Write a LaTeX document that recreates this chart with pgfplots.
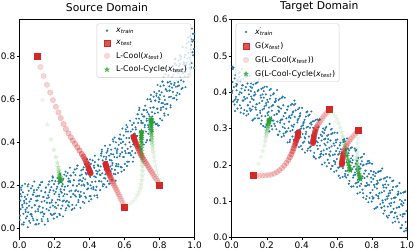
\documentclass[border=0pt]{standalone}
\usepackage{fontspec}
\setmainfont{DejaVu Sans}
\usepackage{pgfplots}
\usepackage{pgfplotstable}
\pgfplotsset{compat=1.18}
\definecolor{tblue}{HTML}{1F77B4}
\definecolor{tred}{HTML}{D62728}
\definecolor{tgreen}{HTML}{2CA02C}
\definecolor{tpink}{HTML}{F6D0D0}
\pgfdeclareplotmark{fstar}{%
  \pgfpathmoveto{\pgfqpointpolar{90}{\pgfplotmarksize}}%
  \pgfpathlineto{\pgfqpointpolar{126}{0.42\pgfplotmarksize}}%
  \pgfpathlineto{\pgfqpointpolar{162}{\pgfplotmarksize}}%
  \pgfpathlineto{\pgfqpointpolar{198}{0.42\pgfplotmarksize}}%
  \pgfpathlineto{\pgfqpointpolar{234}{\pgfplotmarksize}}%
  \pgfpathlineto{\pgfqpointpolar{270}{0.42\pgfplotmarksize}}%
  \pgfpathlineto{\pgfqpointpolar{306}{\pgfplotmarksize}}%
  \pgfpathlineto{\pgfqpointpolar{342}{0.42\pgfplotmarksize}}%
  \pgfpathlineto{\pgfqpointpolar{18}{\pgfplotmarksize}}%
  \pgfpathlineto{\pgfqpointpolar{54}{0.42\pgfplotmarksize}}%
  \pgfpathclose\pgfusepathqfill}

\pgfplotstableread{
x y
0.002 0.040
0.005 0.130
0.007 0.090
0.009 0.190
0.011 0.149
0.014 0.019
0.016 0.199
0.018 0.099
0.023 0.068
0.020 0.168
0.028 0.118
0.025 0.028
0.032 0.207
0.035 0.087
0.037 0.047
0.039 0.137
0.041 0.116
0.044 0.056
0.046 0.156
0.048 0.006
0.053 0.175
0.050 0.075
0.058 0.125
0.055 0.105
0.062 0.026
0.065 0.136
0.067 0.186
0.069 0.066
0.071 0.097
0.074 0.197
0.076 0.047
0.078 0.157
0.083 0.168
0.080 0.038
0.088 0.108
0.085 0.218
0.092 0.079
0.095 0.149
0.097 0.019
0.099 0.179
0.101 0.040
0.104 0.130
0.106 0.090
0.108 0.190
0.113 0.152
0.110 0.022
0.118 0.202
0.115 0.102
0.122 0.074
0.125 0.174
0.127 0.124
0.129 0.034
0.131 0.216
0.134 0.096
0.136 0.056
0.138 0.146
0.143 0.128
0.140 0.068
0.148 0.168
0.145 0.018
0.152 0.190
0.155 0.090
0.157 0.140
0.159 0.120
0.161 0.044
0.164 0.154
0.166 0.204
0.168 0.084
0.173 0.118
0.170 0.218
0.178 0.068
0.175 0.178
0.182 0.192
0.185 0.062
0.187 0.132
0.189 0.242
0.191 0.106
0.194 0.176
0.196 0.046
0.198 0.206
0.203 0.070
0.200 0.160
0.208 0.120
0.205 0.220
0.212 0.184
0.215 0.054
0.217 0.234
0.219 0.134
0.221 0.108
0.224 0.208
0.226 0.158
0.228 0.068
0.233 0.252
0.230 0.132
0.238 0.092
0.235 0.182
0.242 0.166
0.245 0.106
0.247 0.206
0.249 0.056
0.251 0.230
0.254 0.130
0.256 0.180
0.258 0.160
0.263 0.084
0.260 0.194
0.268 0.244
0.265 0.124
0.272 0.158
0.275 0.258
0.277 0.108
0.279 0.218
0.281 0.232
0.284 0.102
0.286 0.172
0.288 0.282
0.293 0.146
0.290 0.216
0.298 0.086
0.295 0.246
0.302 0.110
0.305 0.200
0.307 0.160
0.309 0.260
0.311 0.224
0.314 0.094
0.316 0.274
0.318 0.174
0.323 0.148
0.320 0.248
0.328 0.198
0.325 0.108
0.332 0.292
0.335 0.172
0.337 0.132
0.339 0.222
0.341 0.206
0.344 0.146
0.346 0.246
0.348 0.096
0.353 0.270
0.350 0.170
0.358 0.220
0.355 0.200
0.362 0.124
0.365 0.234
0.367 0.284
0.369 0.164
0.371 0.198
0.374 0.298
0.376 0.148
0.378 0.258
0.383 0.272
0.380 0.142
0.388 0.212
0.385 0.322
0.392 0.186
0.395 0.256
0.397 0.126
0.399 0.286
0.401 0.150
0.404 0.240
0.406 0.200
0.408 0.300
0.413 0.266
0.410 0.136
0.418 0.316
0.415 0.216
0.422 0.192
0.425 0.292
0.427 0.242
0.429 0.152
0.431 0.338
0.434 0.218
0.436 0.178
0.438 0.268
0.443 0.254
0.440 0.194
0.448 0.294
0.445 0.144
0.452 0.320
0.455 0.220
0.457 0.270
0.459 0.250
0.461 0.178
0.464 0.288
0.466 0.338
0.468 0.218
0.473 0.256
0.470 0.356
0.478 0.206
0.475 0.316
0.482 0.334
0.485 0.204
0.487 0.274
0.489 0.384
0.491 0.252
0.494 0.322
0.496 0.192
0.498 0.352
0.503 0.220
0.500 0.310
0.508 0.270
0.505 0.370
0.512 0.338
0.515 0.208
0.517 0.388
0.519 0.288
0.521 0.266
0.524 0.366
0.526 0.316
0.528 0.226
0.533 0.414
0.530 0.294
0.538 0.254
0.535 0.344
0.542 0.332
0.545 0.272
0.547 0.372
0.549 0.222
0.551 0.400
0.554 0.300
0.556 0.350
0.558 0.330
0.563 0.258
0.560 0.368
0.568 0.418
0.565 0.298
0.572 0.336
0.575 0.436
0.577 0.286
0.579 0.396
0.581 0.414
0.584 0.284
0.586 0.354
0.588 0.464
0.593 0.332
0.590 0.402
0.598 0.272
0.595 0.432
0.602 0.300
0.605 0.390
0.607 0.350
0.609 0.450
0.611 0.420
0.614 0.290
0.616 0.470
0.618 0.370
0.623 0.350
0.620 0.450
0.628 0.400
0.625 0.310
0.632 0.500
0.635 0.380
0.637 0.340
0.639 0.430
0.641 0.420
0.644 0.360
0.646 0.460
0.648 0.310
0.653 0.490
0.650 0.390
0.658 0.440
0.655 0.420
0.662 0.350
0.665 0.460
0.667 0.510
0.669 0.390
0.671 0.430
0.674 0.530
0.676 0.380
0.678 0.490
0.683 0.510
0.680 0.380
0.688 0.450
0.685 0.560
0.692 0.430
0.695 0.500
0.697 0.370
0.699 0.530
0.701 0.400
0.704 0.490
0.706 0.450
0.708 0.550
0.713 0.520
0.710 0.390
0.718 0.570
0.715 0.470
0.722 0.450
0.725 0.550
0.727 0.500
0.729 0.410
0.731 0.600
0.734 0.480
0.736 0.440
0.738 0.530
0.743 0.520
0.740 0.460
0.748 0.560
0.745 0.410
0.752 0.590
0.755 0.490
0.757 0.540
0.759 0.520
0.761 0.452
0.764 0.562
0.766 0.612
0.768 0.492
0.773 0.534
0.770 0.634
0.778 0.484
0.775 0.594
0.782 0.616
0.785 0.486
0.787 0.556
0.789 0.666
0.791 0.538
0.794 0.608
0.796 0.478
0.798 0.638
0.803 0.510
0.800 0.600
0.808 0.560
0.805 0.660
0.812 0.632
0.815 0.502
0.817 0.682
0.819 0.582
0.821 0.564
0.824 0.664
0.826 0.614
0.828 0.524
0.833 0.716
0.830 0.596
0.838 0.556
0.835 0.646
0.842 0.638
0.845 0.578
0.847 0.678
0.849 0.528
0.851 0.710
0.854 0.610
0.856 0.660
0.858 0.640
0.863 0.572
0.860 0.682
0.868 0.732
0.865 0.612
0.872 0.654
0.875 0.754
0.877 0.604
0.879 0.714
0.881 0.736
0.884 0.606
0.886 0.676
0.888 0.786
0.893 0.658
0.890 0.728
0.898 0.598
0.895 0.758
0.902 0.630
0.905 0.720
0.907 0.680
0.909 0.780
0.911 0.754
0.914 0.624
0.916 0.804
0.918 0.704
0.923 0.688
0.920 0.788
0.928 0.738
0.925 0.648
0.932 0.842
0.935 0.722
0.937 0.682
0.939 0.772
0.941 0.766
0.944 0.706
0.946 0.806
0.948 0.656
0.953 0.840
0.950 0.740
0.958 0.790
0.955 0.770
0.962 0.706
0.965 0.816
0.967 0.866
0.969 0.746
0.971 0.792
0.974 0.892
0.976 0.742
0.978 0.852
0.983 0.878
0.980 0.748
0.988 0.818
0.985 0.928
0.992 0.804
0.995 0.874
0.997 0.744
0.999 0.904
0.003 0.060
0.007 0.160
0.011 0.179
0.016 0.109
0.023 0.018
0.027 0.128
0.031 0.147
0.036 0.077
0.043 0.096
0.047 0.196
0.051 0.205
0.056 0.035
0.063 0.066
0.067 0.136
0.071 0.057
0.076 0.157
0.083 0.178
0.087 0.108
0.091 0.019
0.096 0.129
0.103 0.150
0.107 0.080
0.111 0.102
0.116 0.202
0.123 0.214
0.127 0.044
0.131 0.076
0.136 0.146
0.143 0.068
0.147 0.168
0.151 0.190
0.156 0.120
0.163 0.034
0.167 0.144
0.171 0.168
0.176 0.098
0.183 0.122
0.187 0.222
0.191 0.236
0.196 0.066
0.203 0.100
0.207 0.170
0.211 0.094
0.216 0.194
0.223 0.218
0.227 0.148
0.231 0.062
0.236 0.172
0.243 0.196
0.247 0.126
0.251 0.150
0.256 0.250
0.263 0.264
0.267 0.094
0.271 0.128
0.276 0.198
0.283 0.122
0.287 0.222
0.291 0.246
0.296 0.176
0.303 0.090
0.307 0.200
0.311 0.224
0.316 0.154
0.323 0.178
0.327 0.278
0.331 0.292
0.336 0.122
0.343 0.156
0.347 0.226
0.351 0.150
0.356 0.250
0.363 0.274
0.367 0.204
0.371 0.118
0.376 0.228
0.383 0.252
0.387 0.182
0.391 0.206
0.396 0.306
0.403 0.320
0.407 0.150
0.411 0.186
0.416 0.256
0.423 0.182
0.427 0.282
0.431 0.308
0.436 0.238
0.443 0.154
0.447 0.264
0.451 0.290
0.456 0.220
0.463 0.248
0.467 0.348
0.471 0.366
0.476 0.196
0.483 0.234
0.487 0.304
0.491 0.232
0.496 0.332
0.503 0.360
0.507 0.290
0.511 0.208
0.516 0.318
0.523 0.346
0.527 0.276
0.531 0.304
0.536 0.404
0.543 0.422
0.547 0.252
0.551 0.290
0.556 0.360
0.563 0.288
0.567 0.388
0.571 0.416
0.576 0.346
0.583 0.264
0.587 0.374
0.591 0.402
0.596 0.332
0.603 0.360
0.607 0.460
0.611 0.480
0.616 0.310
0.623 0.350
0.627 0.420
0.631 0.350
0.636 0.450
0.643 0.480
0.647 0.410
0.651 0.330
0.656 0.440
0.663 0.470
0.667 0.400
0.671 0.430
0.676 0.530
0.683 0.550
0.687 0.380
0.691 0.420
0.696 0.490
0.703 0.420
0.707 0.520
0.711 0.550
0.716 0.480
0.723 0.400
0.727 0.510
0.731 0.540
0.736 0.470
0.743 0.500
0.747 0.600
0.751 0.620
0.756 0.450
0.763 0.492
0.767 0.562
0.771 0.494
0.776 0.594
0.783 0.626
0.787 0.556
0.791 0.478
0.796 0.588
0.803 0.620
0.807 0.550
0.811 0.582
0.816 0.682
0.823 0.704
0.827 0.534
0.831 0.576
0.836 0.646
0.843 0.578
0.847 0.678
0.851 0.710
0.856 0.640
0.863 0.562
0.867 0.672
0.871 0.704
0.876 0.634
0.883 0.666
0.887 0.766
0.891 0.788
0.896 0.618
0.903 0.660
0.907 0.730
0.911 0.664
0.916 0.764
0.923 0.798
0.927 0.728
0.931 0.652
0.936 0.762
0.943 0.796
0.947 0.726
0.951 0.760
0.956 0.860
0.963 0.886
0.967 0.716
0.971 0.762
0.976 0.832
0.983 0.768
0.987 0.868
0.991 0.904
0.996 0.834
}\srctrain

\pgfplotstableread{
x y
0.003 0.470
0.001 0.398
0.008 0.374
0.005 0.428
0.012 0.414
0.015 0.378
0.017 0.438
0.019 0.348
0.021 0.447
0.024 0.387
0.026 0.417
0.028 0.405
0.033 0.355
0.030 0.421
0.038 0.451
0.035 0.379
0.042 0.394
0.045 0.454
0.047 0.364
0.049 0.430
0.051 0.434
0.054 0.356
0.056 0.398
0.058 0.464
0.063 0.377
0.060 0.419
0.068 0.341
0.065 0.437
0.072 0.351
0.075 0.405
0.077 0.381
0.079 0.441
0.081 0.414
0.084 0.336
0.086 0.444
0.088 0.384
0.093 0.364
0.090 0.424
0.098 0.394
0.095 0.340
0.102 0.445
0.105 0.373
0.107 0.349
0.109 0.403
0.111 0.388
0.114 0.352
0.116 0.412
0.118 0.322
0.123 0.421
0.120 0.361
0.128 0.391
0.125 0.379
0.132 0.328
0.135 0.394
0.137 0.424
0.139 0.352
0.141 0.367
0.144 0.427
0.146 0.337
0.148 0.403
0.153 0.406
0.150 0.328
0.158 0.370
0.155 0.436
0.162 0.349
0.165 0.391
0.167 0.313
0.169 0.409
0.171 0.322
0.174 0.376
0.176 0.352
0.178 0.412
0.183 0.385
0.180 0.307
0.188 0.415
0.185 0.355
0.192 0.334
0.195 0.394
0.197 0.364
0.199 0.310
0.201 0.415
0.204 0.343
0.206 0.319
0.208 0.373
0.213 0.358
0.210 0.322
0.218 0.382
0.215 0.292
0.222 0.391
0.225 0.331
0.227 0.361
0.229 0.349
0.231 0.298
0.234 0.364
0.236 0.394
0.238 0.322
0.243 0.337
0.240 0.397
0.248 0.307
0.245 0.373
0.252 0.376
0.255 0.298
0.257 0.340
0.259 0.406
0.261 0.319
0.264 0.361
0.266 0.283
0.268 0.379
0.273 0.292
0.270 0.346
0.278 0.322
0.275 0.382
0.282 0.355
0.285 0.277
0.287 0.385
0.289 0.325
0.291 0.304
0.294 0.364
0.296 0.334
0.298 0.280
0.303 0.385
0.300 0.313
0.308 0.289
0.305 0.343
0.312 0.328
0.315 0.292
0.317 0.352
0.319 0.262
0.321 0.361
0.324 0.301
0.326 0.331
0.328 0.319
0.333 0.269
0.330 0.335
0.338 0.365
0.335 0.293
0.342 0.308
0.345 0.368
0.347 0.278
0.349 0.344
0.351 0.347
0.354 0.269
0.356 0.311
0.358 0.377
0.363 0.290
0.360 0.332
0.368 0.254
0.365 0.350
0.372 0.263
0.375 0.317
0.377 0.293
0.379 0.353
0.381 0.327
0.384 0.249
0.386 0.357
0.388 0.297
0.393 0.276
0.390 0.336
0.398 0.306
0.395 0.252
0.402 0.357
0.405 0.285
0.407 0.261
0.409 0.315
0.411 0.300
0.414 0.264
0.416 0.324
0.418 0.234
0.423 0.333
0.420 0.273
0.428 0.303
0.425 0.291
0.432 0.239
0.435 0.305
0.437 0.335
0.439 0.263
0.441 0.278
0.444 0.338
0.446 0.248
0.448 0.314
0.453 0.317
0.450 0.239
0.458 0.281
0.455 0.347
0.462 0.260
0.465 0.302
0.467 0.224
0.469 0.320
0.471 0.233
0.474 0.287
0.476 0.263
0.478 0.323
0.483 0.295
0.480 0.217
0.488 0.325
0.485 0.265
0.492 0.244
0.495 0.304
0.497 0.274
0.499 0.220
0.501 0.325
0.504 0.253
0.506 0.229
0.508 0.283
0.513 0.267
0.510 0.231
0.518 0.291
0.515 0.201
0.522 0.300
0.525 0.240
0.527 0.270
0.529 0.258
0.531 0.206
0.534 0.272
0.536 0.302
0.538 0.230
0.543 0.244
0.540 0.304
0.548 0.214
0.545 0.280
0.552 0.283
0.555 0.205
0.557 0.247
0.559 0.313
0.561 0.225
0.564 0.267
0.566 0.189
0.568 0.285
0.573 0.197
0.570 0.251
0.578 0.227
0.575 0.287
0.582 0.259
0.585 0.181
0.587 0.289
0.589 0.229
0.591 0.208
0.594 0.268
0.596 0.238
0.598 0.184
0.603 0.288
0.600 0.216
0.608 0.192
0.605 0.246
0.612 0.230
0.615 0.194
0.617 0.254
0.619 0.164
0.621 0.261
0.624 0.201
0.626 0.231
0.628 0.219
0.633 0.167
0.630 0.233
0.638 0.263
0.635 0.191
0.642 0.205
0.645 0.265
0.647 0.175
0.649 0.241
0.651 0.243
0.654 0.165
0.656 0.207
0.658 0.273
0.663 0.184
0.660 0.226
0.668 0.148
0.665 0.244
0.672 0.156
0.675 0.210
0.677 0.186
0.679 0.246
0.681 0.218
0.684 0.140
0.686 0.248
0.688 0.188
0.693 0.165
0.690 0.225
0.698 0.195
0.695 0.141
0.702 0.245
0.705 0.173
0.707 0.149
0.709 0.203
0.711 0.187
0.714 0.151
0.716 0.211
0.718 0.121
0.723 0.219
0.720 0.159
0.728 0.189
0.725 0.177
0.732 0.124
0.735 0.190
0.737 0.220
0.739 0.148
0.741 0.162
0.744 0.222
0.746 0.132
0.748 0.198
0.753 0.200
0.750 0.122
0.758 0.164
0.755 0.230
0.762 0.142
0.765 0.184
0.767 0.106
0.769 0.202
0.771 0.114
0.774 0.168
0.776 0.144
0.778 0.204
0.783 0.175
0.780 0.097
0.788 0.205
0.785 0.145
0.792 0.123
0.795 0.183
0.797 0.153
0.799 0.099
0.801 0.203
0.804 0.131
0.806 0.107
0.808 0.161
0.813 0.145
0.810 0.109
0.818 0.169
0.815 0.079
0.822 0.177
0.825 0.117
0.827 0.147
0.829 0.135
0.831 0.084
0.834 0.150
0.836 0.180
0.838 0.108
0.843 0.122
0.840 0.182
0.848 0.092
0.845 0.158
0.852 0.160
0.855 0.082
0.857 0.124
0.859 0.190
0.861 0.102
0.864 0.144
0.866 0.066
0.868 0.162
0.873 0.074
0.870 0.128
0.878 0.104
0.875 0.164
0.882 0.137
0.885 0.059
0.887 0.167
0.889 0.107
0.891 0.085
0.894 0.145
0.896 0.115
0.898 0.061
0.903 0.165
0.900 0.093
0.908 0.069
0.905 0.123
0.912 0.107
0.915 0.071
0.917 0.131
0.919 0.041
0.921 0.139
0.924 0.079
0.926 0.109
0.928 0.097
0.933 0.044
0.930 0.110
0.938 0.140
0.935 0.068
0.942 0.082
0.945 0.142
0.947 0.052
0.949 0.118
0.951 0.120
0.954 0.042
0.956 0.084
0.958 0.150
0.963 0.062
0.960 0.104
0.968 0.026
0.965 0.122
0.972 0.034
0.975 0.088
0.977 0.064
0.979 0.124
0.981 0.095
0.984 0.017
0.986 0.125
0.988 0.065
0.993 0.043
0.990 0.103
0.998 0.073
0.995 0.019
0.003 0.404
0.007 0.464
0.011 0.468
0.016 0.366
0.023 0.381
0.027 0.423
0.031 0.373
0.036 0.433
0.043 0.442
0.047 0.400
0.051 0.344
0.056 0.410
0.063 0.419
0.067 0.377
0.071 0.387
0.076 0.447
0.083 0.450
0.087 0.348
0.091 0.364
0.096 0.406
0.103 0.355
0.107 0.415
0.111 0.424
0.116 0.382
0.123 0.325
0.127 0.391
0.131 0.400
0.136 0.358
0.143 0.367
0.147 0.427
0.151 0.430
0.156 0.328
0.163 0.343
0.167 0.385
0.171 0.334
0.176 0.394
0.183 0.403
0.187 0.361
0.191 0.304
0.196 0.370
0.203 0.379
0.207 0.337
0.211 0.346
0.216 0.406
0.223 0.409
0.227 0.307
0.231 0.322
0.236 0.364
0.243 0.313
0.247 0.373
0.251 0.382
0.256 0.340
0.263 0.283
0.267 0.349
0.271 0.358
0.276 0.316
0.283 0.325
0.287 0.385
0.291 0.388
0.296 0.286
0.303 0.301
0.307 0.343
0.311 0.292
0.316 0.352
0.323 0.361
0.327 0.319
0.331 0.263
0.336 0.329
0.343 0.338
0.347 0.296
0.351 0.305
0.356 0.365
0.363 0.368
0.367 0.266
0.371 0.281
0.376 0.323
0.383 0.273
0.387 0.333
0.391 0.342
0.396 0.300
0.403 0.243
0.407 0.309
0.411 0.318
0.416 0.276
0.423 0.285
0.427 0.345
0.431 0.347
0.436 0.245
0.443 0.260
0.447 0.302
0.451 0.251
0.456 0.311
0.463 0.320
0.467 0.278
0.471 0.221
0.476 0.287
0.483 0.295
0.487 0.253
0.491 0.262
0.496 0.322
0.503 0.325
0.507 0.223
0.511 0.237
0.516 0.279
0.523 0.228
0.527 0.288
0.531 0.296
0.536 0.254
0.543 0.196
0.547 0.262
0.551 0.271
0.556 0.229
0.563 0.237
0.567 0.297
0.571 0.299
0.576 0.197
0.583 0.211
0.587 0.253
0.591 0.202
0.596 0.262
0.603 0.270
0.607 0.228
0.611 0.170
0.616 0.236
0.623 0.243
0.627 0.201
0.631 0.209
0.636 0.269
0.643 0.271
0.647 0.169
0.651 0.183
0.656 0.225
0.663 0.172
0.667 0.232
0.671 0.240
0.676 0.198
0.683 0.140
0.687 0.206
0.691 0.213
0.696 0.171
0.703 0.179
0.707 0.239
0.711 0.241
0.716 0.139
0.723 0.153
0.727 0.195
0.731 0.142
0.736 0.202
0.743 0.210
0.747 0.168
0.751 0.110
0.756 0.176
0.763 0.184
0.767 0.142
0.771 0.150
0.776 0.210
0.783 0.211
0.787 0.109
0.791 0.123
0.796 0.165
0.803 0.113
0.807 0.173
0.811 0.181
0.816 0.139
0.823 0.081
0.827 0.147
0.831 0.156
0.836 0.114
0.843 0.122
0.847 0.182
0.851 0.184
0.856 0.082
0.863 0.096
0.867 0.138
0.871 0.086
0.876 0.146
0.883 0.155
0.887 0.113
0.891 0.055
0.896 0.121
0.903 0.129
0.907 0.087
0.911 0.095
0.916 0.155
0.923 0.157
0.927 0.055
0.931 0.068
0.936 0.110
0.943 0.058
0.947 0.118
0.951 0.126
0.956 0.084
0.963 0.026
0.967 0.092
0.971 0.100
0.976 0.058
0.983 0.065
0.987 0.125
0.991 0.127
0.996 0.025
}\tgttrain

\pgfplotsset{
  panel/.style={
    width=176pt, height=219pt, scale only axis,
    xmin=0, xmax=1,
    xtick={0,0.2,0.4,0.6,0.8,1},
    axis line style={line width=0.6pt},
    tick align=outside, major tick length=2.5pt,
    tick style={line width=0.5pt, black},
    xtick pos=bottom, ytick pos=left,
    /pgf/number format/fixed,
    /pgf/number format/fixed zerofill,
    /pgf/number format/precision=1,
    /pgf/number format/assume math mode=true,
    tick label style={font=\fontsize{9}{10}\selectfont},
    xticklabel style={inner sep=1pt, yshift=-0.5pt},
    yticklabel style={inner sep=1pt, xshift=-0.5pt},
    title style={font=\fontsize{10.8}{12}\selectfont, inner sep=1.5pt},
    legend style={font=\fontsize{7.9}{9}\selectfont, draw=black!20,
      rounded corners=2pt, fill=white, fill opacity=0.8, text opacity=1,
      inner xsep=2pt, inner ysep=2pt, row sep=2.4pt, cells={anchor=west}},
    legend cell align=left,
    legend image code/.code={\path (0pt,-2pt) (15pt,2pt); \draw[##1] plot coordinates {(8pt,0pt)};},
  },
  traj/.style={scatter, only marks, forget plot,
    visualization depends on={\thisrow{a}\as\alp},
    scatter/@pre marker code/.code={\scope[opacity=\alp, fill=#1, draw=#1]},
    scatter/@post marker code/.code={\endscope}},
}

\begin{document}
\begin{tikzpicture}
%%%%%%%%%%%%%%%% Source domain
\begin{axis}[panel, ymin=-0.042, ymax=0.97,
  ytick={0,0.2,0.4,0.6,0.8},
  title={Source Domain},
  legend style={at={(1,1)}, anchor=north east, xshift=-3.5pt, yshift=-4pt}]
\addplot[only marks, mark=*, mark size=0.8pt, color=tblue, forget plot] table[x=x,y=y] {\srctrain};
\addplot[only marks, mark=square*, mark size=3pt, color=tred, forget plot] coordinates {(0.1,0.8) (0.6,0.1) (0.8,0.2)};
% L-Cool trajectories
\addplot[traj=tred, mark=*, mark size=2.8pt, mark options={line width=0.3pt}] table {
x y a
0.120 0.750 0.18
0.138 0.708 0.19
0.157 0.667 0.20
0.176 0.631 0.21
0.191 0.596 0.22
0.208 0.565 0.23
0.223 0.539 0.24
0.236 0.513 0.25
0.252 0.485 0.26
0.265 0.462 0.27
0.280 0.442 0.28
0.293 0.424 0.29
0.305 0.408 0.30
0.318 0.393 0.32
0.331 0.377 0.34
0.343 0.362 0.38
0.356 0.346 0.45
0.365 0.334 0.5
0.373 0.322 0.55
0.380 0.310 0.6
0.386 0.299 0.65
0.391 0.289 0.7
0.395 0.280 0.75
0.399 0.272 0.8
0.402 0.265 0.85
0.404 0.260 0.9
0.406 0.256 0.9
};
\addplot[traj=tred, mark=*, mark size=2.8pt, mark options={line width=0.3pt}] table {
x y a
0.596 0.108 0.15
0.590 0.118 0.16
0.584 0.129 0.17
0.578 0.139 0.18
0.572 0.149 0.19
0.566 0.159 0.2
0.560 0.169 0.21
0.554 0.179 0.22
0.548 0.189 0.23
0.542 0.199 0.25
0.536 0.209 0.3
0.530 0.219 0.35
0.525 0.229 0.4
0.520 0.238 0.45
0.515 0.247 0.5
0.511 0.255 0.55
0.507 0.263 0.6
0.503 0.271 0.65
0.500 0.278 0.7
0.497 0.284 0.75
0.495 0.289 0.8
0.493 0.294 0.85
0.492 0.298 0.9
0.491 0.301 0.9
};
\addplot[traj=tred, mark=*, mark size=2.8pt, mark options={line width=0.3pt}] table {
x y a
0.800 0.204 0.15
0.793 0.213 0.16
0.786 0.222 0.17
0.779 0.231 0.18
0.772 0.240 0.19
0.765 0.249 0.2
0.758 0.258 0.21
0.751 0.267 0.22
0.744 0.276 0.23
0.737 0.285 0.24
0.730 0.294 0.26
0.723 0.303 0.28
0.716 0.312 0.3
0.709 0.321 0.35
0.702 0.330 0.4
0.696 0.340 0.45
0.690 0.350 0.5
0.684 0.361 0.55
0.678 0.372 0.6
0.672 0.383 0.65
0.667 0.393 0.7
0.662 0.402 0.75
0.658 0.410 0.8
0.655 0.417 0.85
0.653 0.423 0.9
0.652 0.427 0.9
};
% L-Cool-Cycle trajectories
\addplot[traj=tgreen, mark=fstar, mark size=3.2pt] table {
x y a
0.132 0.596 0.1
0.159 0.482 0.12
0.180 0.413 0.14
0.197 0.365 0.16
0.208 0.331 0.18
0.216 0.305 0.22
0.221 0.285 0.3
0.225 0.268 0.4
0.228 0.255 0.5
0.230 0.245 0.6
0.232 0.237 0.7
0.233 0.231 0.8
0.234 0.226 0.9
0.235 0.222 0.95
0.236 0.219 1
};
\addplot[traj=tgreen, mark=fstar, mark size=3.2pt] table {
x y a
0.615 0.108 0.08
0.632 0.115 0.09
0.648 0.126 0.1
0.662 0.139 0.11
0.674 0.155 0.12
0.683 0.170 0.13
0.690 0.187 0.14
0.695 0.205 0.15
0.699 0.225 0.16
0.701 0.246 0.17
0.702 0.268 0.18
0.702 0.290 0.22
0.701 0.310 0.3
0.700 0.328 0.38
0.699 0.345 0.45
0.698 0.360 0.52
0.697 0.374 0.6
0.697 0.387 0.68
0.696 0.399 0.75
0.696 0.410 0.82
0.696 0.420 0.88
0.696 0.429 0.92
0.697 0.437 0.95
0.697 0.444 1
0.698 0.450 1
};
\addplot[traj=tgreen, mark=fstar, mark size=3.2pt] table {
x y a
0.800 0.212 0.08
0.795 0.230 0.09
0.789 0.250 0.1
0.782 0.271 0.11
0.776 0.292 0.12
0.771 0.313 0.13
0.767 0.334 0.14
0.764 0.353 0.16
0.761 0.370 0.18
0.759 0.386 0.24
0.757 0.400 0.32
0.756 0.413 0.4
0.755 0.425 0.48
0.754 0.436 0.55
0.753 0.446 0.62
0.753 0.456 0.7
0.752 0.465 0.78
0.752 0.474 0.85
0.752 0.482 0.9
0.752 0.490 0.95
0.752 0.497 1
0.752 0.503 1
0.752 0.508 1
};
\addlegendimage{only marks, mark=*, mark size=0.9pt, color=tblue}
\addlegendentry{\textit{x}\textsubscript{\textit{train}}}
\addlegendimage{only marks, mark=square*, mark size=3pt, color=tred}
\addlegendentry{\textit{x}\textsubscript{\textit{test}}}
\addlegendimage{only marks, mark=*, mark size=2.8pt, color=tpink}
\addlegendentry{L-Cool(\textit{x}\textsubscript{\textit{test}})}
\addlegendimage{only marks, mark=fstar, mark size=3.2pt, color=tgreen}
\addlegendentry{L-Cool-Cycle(\textit{x}\textsubscript{\textit{test}})}
\end{axis}

%%%%%%%%%%%%%%%% Target domain
\begin{axis}[panel, xshift=213.3pt, ymin=0, ymax=0.6,
  ytick={0,0.1,0.2,0.3,0.4,0.5,0.6},
  title={Target Domain},
  legend style={at={(0,1)}, anchor=north west, xshift=4pt, yshift=-4pt}]
\addplot[only marks, mark=*, mark size=0.8pt, color=tblue, forget plot] table[x=x,y=y] {\tgttrain};
\addplot[only marks, mark=square*, mark size=3pt, color=tred, forget plot] coordinates {(0.123,0.171) (0.559,0.353) (0.723,0.296)};
\addplot[traj=tred, mark=*, mark size=2.8pt, mark options={line width=0.3pt}] table {
x y a
0.140 0.170 0.15
0.157 0.170 0.16
0.174 0.171 0.17
0.191 0.171 0.18
0.208 0.172 0.19
0.225 0.173 0.2
0.242 0.176 0.21
0.258 0.180 0.22
0.273 0.185 0.23
0.287 0.191 0.24
0.300 0.198 0.26
0.312 0.205 0.28
0.323 0.213 0.3
0.332 0.221 0.35
0.340 0.229 0.4
0.347 0.237 0.45
0.353 0.245 0.5
0.359 0.253 0.55
0.364 0.260 0.6
0.368 0.266 0.65
0.372 0.272 0.7
0.375 0.277 0.75
0.377 0.281 0.8
0.379 0.285 0.85
0.380 0.288 0.9
0.381 0.290 0.9
};
\addplot[traj=tred, mark=*, mark size=2.8pt, mark options={line width=0.3pt}] table {
x y a
0.552 0.349 0.15
0.543 0.344 0.16
0.534 0.339 0.17
0.525 0.334 0.18
0.516 0.328 0.2
0.507 0.322 0.22
0.499 0.316 0.25
0.491 0.310 0.3
0.485 0.304 0.4
0.480 0.298 0.5
0.476 0.292 0.6
0.473 0.286 0.7
0.470 0.280 0.75
0.468 0.274 0.8
0.466 0.269 0.85
0.465 0.264 0.9
0.464 0.260 0.9
};
\addplot[traj=tred, mark=*, mark size=2.8pt, mark options={line width=0.3pt}] table {
x y a
0.715 0.291 0.15
0.706 0.286 0.16
0.697 0.281 0.17
0.688 0.276 0.18
0.679 0.271 0.2
0.670 0.265 0.22
0.662 0.259 0.25
0.654 0.252 0.3
0.647 0.245 0.4
0.642 0.238 0.5
0.638 0.231 0.6
0.635 0.225 0.7
0.633 0.219 0.75
0.631 0.213 0.8
0.630 0.208 0.85
0.629 0.204 0.9
0.629 0.201 0.9
};
\addplot[traj=tgreen, mark=fstar, mark size=3.2pt] table {
x y a
0.135 0.180 0.08
0.152 0.203 0.1
0.166 0.222 0.11
0.178 0.238 0.12
0.186 0.253 0.13
0.191 0.266 0.16
0.195 0.277 0.22
0.198 0.286 0.3
0.201 0.294 0.4
0.204 0.301 0.5
0.207 0.307 0.6
0.209 0.312 0.7
0.211 0.316 0.8
0.213 0.320 0.9
0.215 0.323 0.95
0.216 0.326 1
};
\addplot[traj=tgreen, mark=fstar, mark size=3.2pt] table {
x y a
0.568 0.348 0.08
0.578 0.342 0.09
0.589 0.334 0.1
0.600 0.325 0.11
0.610 0.314 0.12
0.619 0.302 0.13
0.627 0.290 0.15
0.634 0.278 0.2
0.640 0.266 0.28
0.645 0.255 0.36
0.650 0.244 0.45
0.654 0.234 0.55
0.658 0.224 0.65
0.662 0.214 0.75
0.666 0.205 0.85
0.670 0.197 0.9
0.674 0.190 0.95
0.677 0.185 1
};
\addplot[traj=tgreen, mark=fstar, mark size=3.2pt] table {
x y a
0.722 0.285 0.08
0.720 0.272 0.1
0.718 0.259 0.12
0.717 0.246 0.14
0.716 0.234 0.18
0.715 0.222 0.25
0.715 0.212 0.35
0.716 0.203 0.45
0.718 0.195 0.55
0.720 0.188 0.65
0.723 0.181 0.75
0.726 0.175 0.85
0.729 0.170 0.9
0.732 0.165 0.95
0.735 0.161 1
};
\addlegendimage{only marks, mark=*, mark size=0.9pt, color=tblue}
\addlegendentry{\textit{x}\rlap{\textsuperscript{\textit{\char"2032}}}\textsubscript{\textit{train}}}
\addlegendimage{only marks, mark=square*, mark size=3pt, color=tred}
\addlegendentry{G(\textit{x}\textsubscript{\textit{test}})}
\addlegendimage{only marks, mark=*, mark size=2.8pt, color=tpink}
\addlegendentry{G(L-Cool(\textit{x}\textsubscript{\textit{test}}))}
\addlegendimage{only marks, mark=fstar, mark size=3.2pt, color=tgreen}
\addlegendentry{G(L-Cool-Cycle(\textit{x}\textsubscript{\textit{test}})}
\end{axis}
\end{tikzpicture}
\end{document}
